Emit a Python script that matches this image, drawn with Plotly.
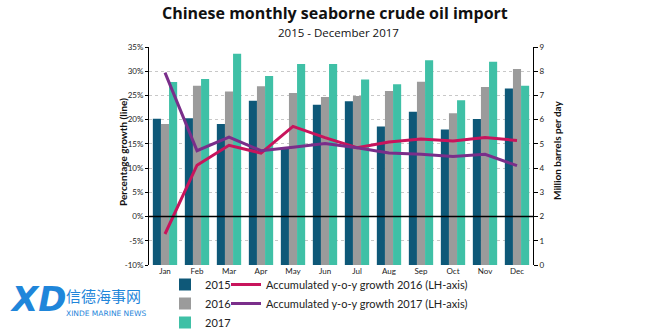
import plotly.graph_objects as go

months = ["Jan", "Feb", "Mar", "Apr", "May", "Jun", "Jul", "Aug", "Sep", "Oct", "Nov", "Dec"]
imp_2015 = [6.04, 6.06, 5.82, 6.78, 4.85, 6.62, 6.76, 5.72, 6.33, 5.59, 6.03, 7.29]
imp_2016 = [5.82, 7.40, 7.16, 7.38, 7.10, 6.94, 6.98, 7.18, 7.57, 6.27, 7.35, 8.09]
imp_2017 = [7.56, 7.68, 8.72, 7.80, 8.30, 8.30, 7.66, 7.46, 8.45, 6.80, 8.39, 7.40]
growth_2016 = [-3.6, 10.6, 14.7, 13.1, 18.6, 16.3, 14.2, 15.4, 16.0, 15.6, 16.3, 15.7]
growth_2017 = [29.7, 13.6, 16.4, 13.6, 14.3, 15.1, 14.2, 13.1, 12.85, 12.4, 12.85, 10.5]

pct_ticks = list(range(-10, 40, 5))
mb_ticks = list(range(0, 10))

C15, C16, C17 = "#0E5878", "#9B9B9B", "#3FC0A6"
CL16, CL17 = "#C8145C", "#7A2E8A"
FONT = "Lato, 'Open Sans', sans-serif"

# plot area in pixels
L, R, T, B = 149, 533, 47, 265
W, H = R - L, B - T


def px(x):
    return (x - L) / W


def py(y):
    return (B - y) / H


fig = go.Figure()
for name, vals, col in [("2015", imp_2015, C15), ("2016", imp_2016, C16), ("2017", imp_2017, C17)]:
    fig.add_trace(go.Bar(x=months, y=vals, name=name, marker=dict(color=col, line=dict(width=0)),
                         yaxis="y", legend="legend"))
fig.add_trace(go.Scatter(x=months, y=growth_2016, mode="lines", name="Accumulated y-o-y growth 2016 (LH-axis)",
                         line=dict(color=CL16, width=3), yaxis="y2", legend="legend2"))
fig.add_trace(go.Scatter(x=months, y=growth_2017, mode="lines", name="Accumulated y-o-y growth 2017 (LH-axis)",
                         line=dict(color=CL17, width=3), yaxis="y2", legend="legend2"))

fig.add_shape(type="line", xref="paper", yref="y2", x0=0, x1=1, y0=0, y1=0,
              line=dict(color="black", width=1.5), layer="above")

fig.update_layout(
    width=670, height=330,
    margin=dict(l=L, r=670 - R, t=T, b=330 - B, autoexpand=False),
    paper_bgcolor="white", plot_bgcolor="white",
    font=dict(family=FONT, color="#222", size=9),
    barmode="group", bargap=0.24, bargroupgap=0,
    showlegend=True,
    xaxis=dict(showline=False, ticks="", tickfont=dict(size=8), showgrid=False),
    yaxis=dict(side="right", range=[0, 9], tickvals=mb_ticks, ticks="outside", ticklen=4,
               showline=True, linecolor="black", linewidth=1, tickcolor="black",
               showgrid=True, gridcolor="#c8c8c8", griddash="dot", gridwidth=1,
               zeroline=False, tickfont=dict(size=8)),
    yaxis2=dict(side="left", overlaying="y", range=[-10, 35], tickvals=pct_ticks,
                ticktext=[f"{t}%" for t in pct_ticks], ticks="outside", ticklen=3,
                showline=True, linecolor="black", linewidth=1, tickcolor="black",
                showgrid=False, zeroline=False, tickfont=dict(size=8)),
    legend=dict(x=px(165), y=py(270), xanchor="left", yanchor="top", orientation="v",
                font=dict(size=11), bgcolor="rgba(0,0,0,0)", tracegroupgap=0, itemwidth=30),
    legend2=dict(x=px(226), y=py(270), xanchor="left", yanchor="top", orientation="v",
                 font=dict(size=11), bgcolor="rgba(0,0,0,0)", tracegroupgap=0, itemwidth=30),
)

fig.add_annotation(text="<b>Chinese monthly seaborne crude oil import</b>", xref="paper", yref="paper",
                   x=px(335), y=py(13.5), xanchor="center", yanchor="middle", showarrow=False,
                   borderpad=0, font=dict(size=16, color="#111", family="'Open Sans', sans-serif"))
fig.add_annotation(text="2015 - December 2017", xref="paper", yref="paper",
                   x=px(338), y=py(32), xanchor="center", yanchor="middle", showarrow=False,
                   borderpad=0, font=dict(size=11.5, color="#111", family="'Open Sans', sans-serif"))

fig.add_annotation(text="<b>Percentage growth (line)</b>", xref="paper", yref="paper",
                   x=px(123), y=py(152), xanchor="center", yanchor="middle", textangle=-90,
                   showarrow=False, font=dict(size=10, color="#111"))
fig.add_annotation(text="<b>Million barrels per day</b>", xref="paper", yref="paper",
                   x=px(557), y=py(150), xanchor="center", yanchor="middle", textangle=-90,
                   showarrow=False, font=dict(size=10, color="#111"))

fig.add_annotation(text="<b><i>XD</i></b>", xref="paper", yref="paper", x=px(8), y=py(299),
                   xanchor="left", yanchor="middle", showarrow=False,
                   font=dict(size=34, color="#1F86DA", family="'DejaVu Sans', sans-serif"))
fig.add_annotation(text="信德海事网", xref="paper", yref="paper", x=px(64), y=py(295),
                   xanchor="left", yanchor="middle", showarrow=False,
                   font=dict(size=15, color="#1F86DA", family="'Noto Sans CJK SC'"))
fig.add_annotation(text="XINDE MARINE NEWS", xref="paper", yref="paper", x=px(64), y=py(313),
                   xanchor="left", yanchor="middle", showarrow=False,
                   font=dict(size=7.5, color="#1F86DA", family="'DejaVu Sans', sans-serif"))

fig.write_html("out.html")
